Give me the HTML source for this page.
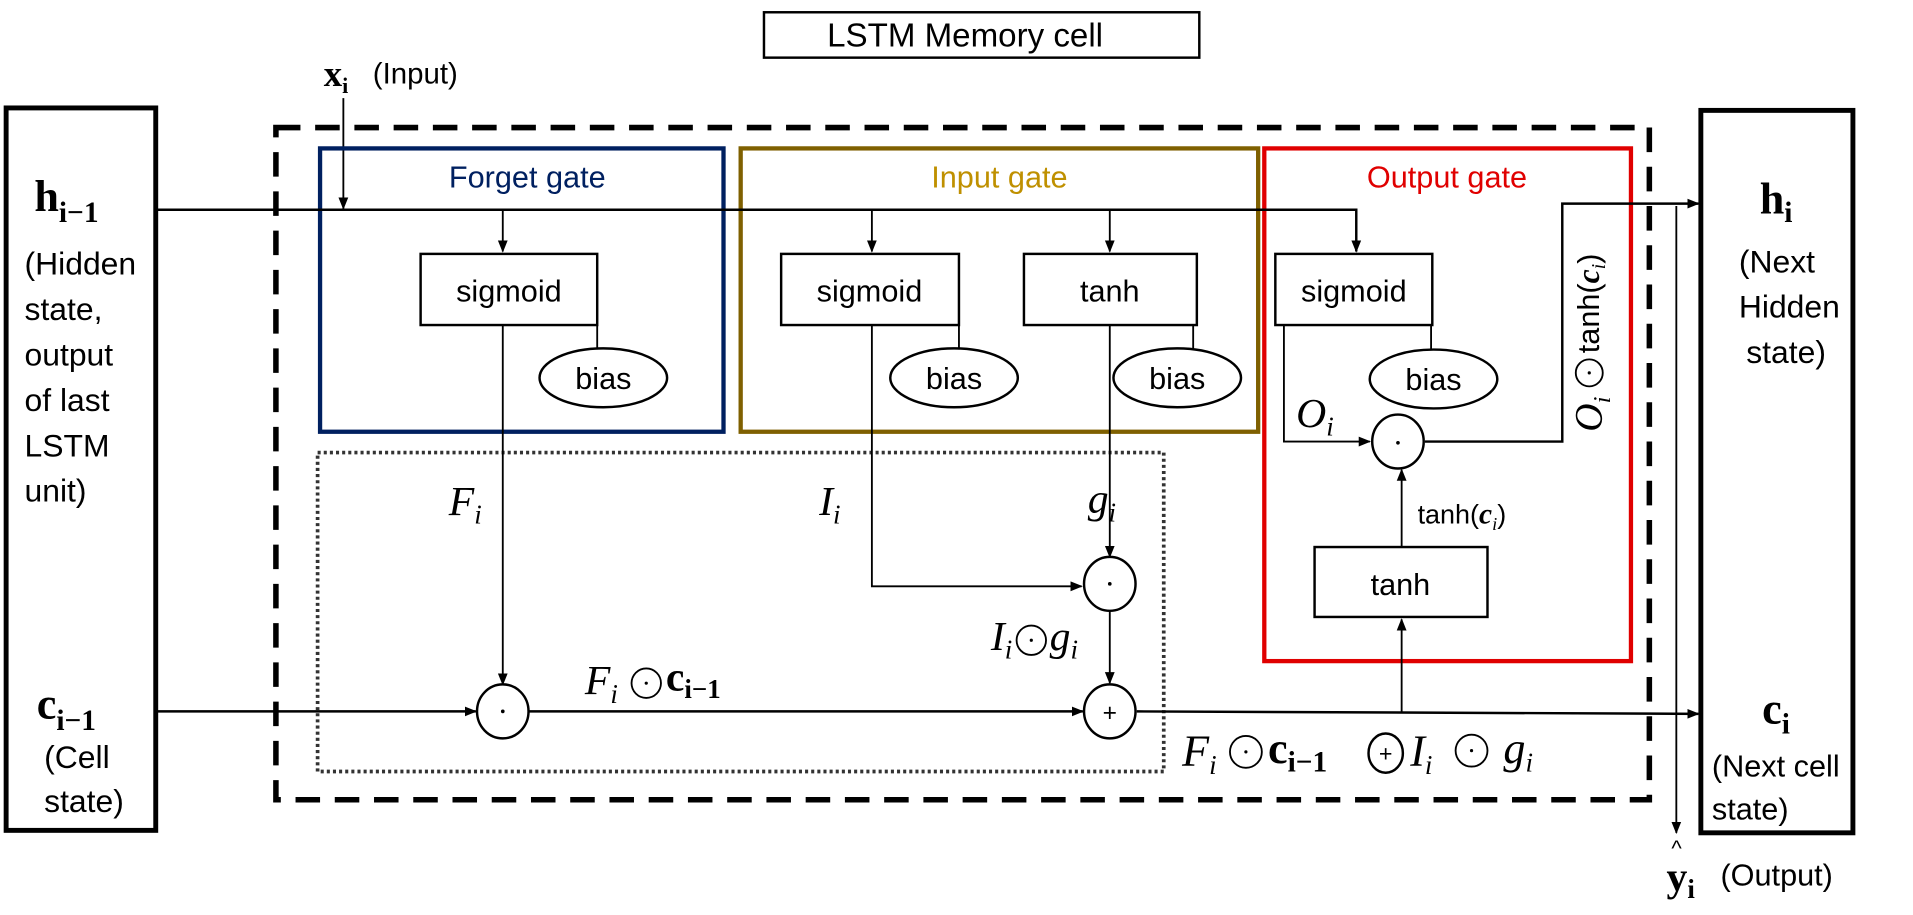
<!DOCTYPE html>
<html><head><meta charset="utf-8"><style>
html,body{margin:0;padding:0;background:#fff;}
svg{display:block}
.s{font-family:"Liberation Sans",sans-serif;}
.m{font-family:"Liberation Serif",serif;font-style:italic;}
.b{font-family:"Liberation Serif",serif;font-weight:bold;}
</style></head><body>
<svg width="1913" height="915" viewBox="0 0 1560 746" preserveAspectRatio="none" xmlns="http://www.w3.org/2000/svg">
<defs>
<marker id="a" markerWidth="10" markerHeight="10" refX="9" refY="5" orient="auto" markerUnits="userSpaceOnUse"><path d="M0,1 L10,5 L0,9 Z" fill="#000"/></marker>
</defs>
<rect width="1560" height="746" fill="#fff"/>
<rect x="623" y="10" width="355" height="37" fill="none" stroke="#000" stroke-width="2"/>
<text x="787" y="38" class="s" font-size="27" text-anchor="middle">LSTM Memory cell</text>
<text x="264" y="70" class="b" font-size="30">x<tspan dy="6" font-size="18">i</tspan></text>
<text x="304" y="68" class="s" font-size="24">(Input)</text>
<line x1="280" y1="80" x2="280" y2="170" stroke="#000" stroke-width="1.5" marker-end="url(#a)"/>
<rect x="5" y="88" width="122" height="589" fill="none" stroke="#000" stroke-width="4"/>
<text x="28" y="172" class="b" font-size="36">h<tspan dy="9" font-size="24">i−1</tspan></text>
<g class="s" font-size="26"><text x="20" y="224">(Hidden</text><text x="20" y="261">state,</text><text x="20" y="298">output</text><text x="20" y="335">of last</text><text x="20" y="372">LSTM</text><text x="20" y="409">unit)</text></g>
<text x="30" y="586" class="b" font-size="36">c<tspan dy="9" font-size="24">i−1</tspan></text>
<g class="s" font-size="26"><text x="36" y="626">(Cell</text><text x="36" y="662">state)</text></g>
<rect x="1387" y="90" width="124" height="589" fill="none" stroke="#000" stroke-width="4"/>
<text x="1435" y="174" class="b" font-size="36">h<tspan dy="7" font-size="24">i</tspan></text>
<g class="s" font-size="26"><text x="1418" y="222">(Next</text><text x="1418" y="259">Hidden</text><text x="1424" y="296">state)</text></g>
<text x="1437" y="590" class="b" font-size="36">c<tspan dy="8" font-size="24">i</tspan></text>
<g class="s" font-size="25"><text x="1396" y="633">(Next cell</text><text x="1396" y="668">state)</text></g>
<rect x="225" y="104" width="1120" height="548" fill="none" stroke="#000" stroke-width="4.5" stroke-dasharray="20,12"/>
<rect x="261" y="121" width="329" height="231" fill="none" stroke="#002060" stroke-width="3.5"/>
<rect x="604" y="121" width="422" height="231" fill="none" stroke="#7f6000" stroke-width="3.5"/>
<rect x="1031" y="121" width="299" height="418" fill="none" stroke="#e00000" stroke-width="3.5"/>
<rect x="259" y="369" width="690" height="260" fill="none" stroke="#333" stroke-width="3" stroke-dasharray="2.5,2.5"/>
<text x="430" y="153" class="s" font-size="25" fill="#002060" text-anchor="middle">Forget gate</text>
<text x="815" y="153" class="s" font-size="25" fill="#bf9000" text-anchor="middle">Input gate</text>
<text x="1180" y="153" class="s" font-size="25" fill="#e00000" text-anchor="middle">Output gate</text>
<polyline points="127,171 1106,171 1106,205" fill="none" stroke="#000" stroke-width="2" marker-end="url(#a)"/>
<line x1="410" y1="171" x2="410" y2="205" stroke="#000" stroke-width="1.5" marker-end="url(#a)"/>
<line x1="711" y1="171" x2="711" y2="205" stroke="#000" stroke-width="1.5" marker-end="url(#a)"/>
<line x1="905" y1="171" x2="905" y2="205" stroke="#000" stroke-width="1.5" marker-end="url(#a)"/>
<g fill="#fff" stroke="#000" stroke-width="2">
<rect x="343" y="207" width="144" height="58"/>
<rect x="637" y="207" width="145" height="58"/>
<rect x="835" y="207" width="141" height="58"/>
<rect x="1040" y="207" width="128" height="58"/>
<rect x="1072" y="446" width="141" height="57"/>
<ellipse cx="492" cy="308" rx="52" ry="24"/>
<ellipse cx="778" cy="308" rx="52" ry="24"/>
<ellipse cx="960" cy="308" rx="52" ry="24"/>
<ellipse cx="1169" cy="309" rx="52" ry="24"/>
</g>
<g stroke="#000" stroke-width="1.5">
<line x1="487" y1="265" x2="487" y2="285"/>
<line x1="782" y1="265" x2="782" y2="285"/>
<line x1="973" y1="265" x2="973" y2="285"/>
<line x1="1167" y1="265" x2="1167" y2="285"/>
</g>
<g class="s" font-size="25" text-anchor="middle">
<text x="415" y="246">sigmoid</text><text x="709" y="246">sigmoid</text><text x="905" y="246">tanh</text><text x="1104" y="246">sigmoid</text><text x="1142" y="485">tanh</text>
<text x="492" y="317">bias</text><text x="778" y="317">bias</text><text x="960" y="317">bias</text><text x="1169" y="318">bias</text>
</g>
<line x1="410" y1="265" x2="410" y2="558" stroke="#000" stroke-width="1.5" marker-end="url(#a)"/>
<polyline points="711,265 711,478 882,478" fill="none" stroke="#000" stroke-width="1.5" marker-end="url(#a)"/>
<line x1="905" y1="265" x2="905" y2="454" stroke="#000" stroke-width="1.5" marker-end="url(#a)"/>
<line x1="905" y1="498" x2="905" y2="557" stroke="#000" stroke-width="1.5" marker-end="url(#a)"/>
<line x1="127" y1="580" x2="388" y2="580" stroke="#000" stroke-width="2" marker-end="url(#a)"/>
<line x1="431" y1="580" x2="883" y2="580" stroke="#000" stroke-width="2" marker-end="url(#a)"/>
<line x1="927" y1="580" x2="1385" y2="582" stroke="#000" stroke-width="2" marker-end="url(#a)"/>
<line x1="1143" y1="581" x2="1143" y2="505" stroke="#000" stroke-width="1.5" marker-end="url(#a)"/>
<line x1="1143" y1="446" x2="1143" y2="383" stroke="#000" stroke-width="1.5" marker-end="url(#a)"/>
<polyline points="1047,265 1047,360 1117,360" fill="none" stroke="#000" stroke-width="1.5" marker-end="url(#a)"/>
<polyline points="1162,360 1274,360 1274,166 1385,166" fill="none" stroke="#000" stroke-width="2" marker-end="url(#a)"/>
<line x1="1367" y1="168" x2="1367" y2="679" stroke="#000" stroke-width="1.5" marker-end="url(#a)"/>
<g fill="#fff" stroke="#000" stroke-width="2">
<ellipse cx="410" cy="580" rx="21" ry="22"/>
<ellipse cx="905" cy="476" rx="21" ry="22"/>
<ellipse cx="905" cy="580" rx="21" ry="22"/>
<ellipse cx="1140" cy="360" rx="21" ry="22"/>
</g>
<g fill="#000"><circle cx="410" cy="580" r="1.5"/><circle cx="905" cy="476" r="1.5"/><circle cx="1140" cy="361" r="1.5"/></g>
<text x="905" y="588" class="s" font-size="20" text-anchor="middle">+</text>
<text x="366" y="420" class="m" font-size="34">F<tspan dy="7" font-size="22">i</tspan></text>
<text x="668" y="420" class="m" font-size="34">I<tspan dy="7" font-size="22">i</tspan></text>
<text x="887" y="418" class="m" font-size="34">g<tspan dy="7" font-size="22">i</tspan></text>
<text x="808" y="530" class="m" font-size="34">I<tspan dy="7" font-size="22">i</tspan></text>
<circle cx="841" cy="522" r="12" fill="none" stroke="#000" stroke-width="1.5"/><circle cx="841" cy="522" r="1.3"/>
<text x="856" y="530" class="m" font-size="34">g<tspan dy="7" font-size="22">i</tspan></text>
<text x="477" y="566" class="m" font-size="34">F<tspan dy="7" font-size="22">i</tspan></text>
<circle cx="527" cy="557" r="12" fill="none" stroke="#000" stroke-width="1.5"/><circle cx="527" cy="557" r="1.3"/>
<text x="543" y="563" class="b" font-size="34">c<tspan dy="6" font-size="22">i−1</tspan></text>
<text x="1057" y="348" class="m" font-size="34">O<tspan dy="7" font-size="22">i</tspan></text>
<text x="1156" y="427" class="s" font-size="22">tanh(<tspan class="m" font-weight="bold" font-size="24">c</tspan><tspan class="m" dy="5" font-size="15">i</tspan><tspan dy="-5">)</tspan></text>
<g transform="translate(1306,352) rotate(-90)">
<text x="0" y="0" class="m" font-size="32">O<tspan dy="7" font-size="20">i</tspan></text>
<circle cx="48" cy="-10" r="11" fill="none" stroke="#000" stroke-width="1.5"/><circle cx="48" cy="-10" r="1.3"/>
<text x="64" y="-2" class="s" font-size="25">tanh(<tspan class="m" font-weight="bold" font-size="26">c</tspan><tspan class="m" dy="5" font-size="16">i</tspan><tspan dy="-5">)</tspan></text>
</g>
<text x="964" y="624" class="m" font-size="36">F<tspan dy="7" font-size="22">i</tspan></text>
<circle cx="1016" cy="613" r="13" fill="none" stroke="#000" stroke-width="1.5"/><circle cx="1016" cy="613" r="1.3"/>
<text x="1034" y="622" class="b" font-size="36">c<tspan dy="7" font-size="24">i−1</tspan></text>
<ellipse cx="1130" cy="614" rx="14" ry="16" fill="none" stroke="#000" stroke-width="2"/>
<text x="1130" y="621" class="s" font-size="19" text-anchor="middle">+</text>
<text x="1150" y="624" class="m" font-size="36">I<tspan dy="7" font-size="22">i</tspan></text>
<circle cx="1200" cy="612" r="13" fill="none" stroke="#000" stroke-width="1.5"/><circle cx="1200" cy="612" r="1.3"/>
<text x="1226" y="622" class="m" font-size="36">g<tspan dy="7" font-size="22">i</tspan></text>
<text x="1363" y="698" class="s" font-size="18">^</text>
<text x="1359" y="726" class="b" font-size="34">y<tspan dy="6" font-size="22">i</tspan></text>
<text x="1403" y="722" class="s" font-size="25">(Output)</text>
</svg>
</body></html>
